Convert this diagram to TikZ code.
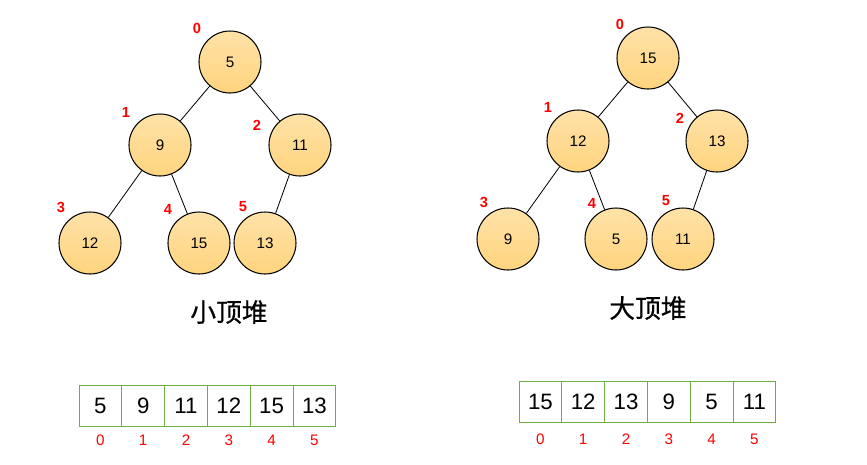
\documentclass[tikz,border=0pt]{standalone}
\usepackage{fontspec}
\setmainfont{Liberation Sans}
\newfontfamily\cjk[FakeBold=0.6]{Noto Sans CJK SC}
\usetikzlibrary{positioning}
\definecolor{nodetop}{HTML}{FFE2A8}
\definecolor{nodebot}{HTML}{FFD47E}
\definecolor{cellgreen}{HTML}{6DAE45}
\definecolor{idxred}{HTML}{FF0000}
\tikzset{
  hnode/.style={circle, draw=black, line width=0.9pt, minimum size=1.86cm, inner sep=0pt,
    top color=nodetop, bottom color=nodebot, font=\fontsize{13}{15}\selectfont},
  hedge/.style={line width=0.7pt},
  hpos/.style={text=idxred, font=\bfseries\fontsize{12.5}{14}\selectfont, inner sep=0pt},
  title/.style={font=\cjk\fontsize{22}{26}\selectfont},
  cell/.style={draw=cellgreen, line width=0.8pt, minimum width=1.284cm, minimum height=1.23cm,
    inner sep=0pt, outer sep=0pt, font=\fontsize{19}{22}\selectfont},
  cidx/.style={text=idxred, font=\fontsize{13}{15}\selectfont, inner sep=0pt}
}
\begin{document}
\begin{tikzpicture}[x=0.03cm, y=-0.03cm]
  \useasboundingbox (0,0) rectangle (867,464);
  % min heap
  \node[hnode] (m0) at (230,62) {5};
  \node[hnode] (m1) at (160,145) {9};
  \node[hnode] (m2) at (300,145) {11};
  \node[hnode] (m3) at (90,243) {12};
  \node[hnode] (m4) at (199,243) {15};
  \node[hnode] (m5) at (265,243) {13};
  \draw[hedge] (m0) -- (m1);
  \draw[hedge] (m0) -- (m2);
  \draw[hedge] (m1) -- (m3);
  \draw[hedge] (m1) -- (m4);
  \draw[hedge] (m2) -- (m5);
  \node[hpos] (mp0) at (197,28) {0};
  \node[hpos] (mp1) at (126,112) {1};
  \node[hpos] (mp2) at (257,125) {2};
  \node[hpos] (mp3) at (61,207) {3};
  \node[hpos] (mp4) at (168,209) {4};
  \node[hpos] (mp5) at (243,207) {5};
  \node[title] (mt) at (229,312) {小顶堆};
  % max heap
  \node[hnode] (x0) at (648,58) {15};
  \node[hnode] (x1) at (578,141) {12};
  \node[hnode] (x2) at (717,141) {13};
  \node[hnode] (x3) at (508,239) {9};
  \node[hnode] (x4) at (616,239) {5};
  \node[hnode] (x5) at (683,239) {11};
  \draw[hedge] (x0) -- (x1);
  \draw[hedge] (x0) -- (x2);
  \draw[hedge] (x1) -- (x3);
  \draw[hedge] (x1) -- (x4);
  \draw[hedge] (x2) -- (x5);
  \node[hpos] (xp0) at (620,24) {0};
  \node[hpos] (xp1) at (548,107) {1};
  \node[hpos] (xp2) at (680,118) {2};
  \node[hpos] (xp3) at (484,202) {3};
  \node[hpos] (xp4) at (592,203) {4};
  \node[hpos] (xp5) at (666,201) {5};
  \node[title] (xt) at (648,308) {大顶堆};
  % arrays
  \node[cell] (a0) at (100.4,406) {5};
  \node[cell, right=0pt of a0] (a1) {9};
  \node[cell, right=0pt of a1] (a2) {11};
  \node[cell, right=0pt of a2] (a3) {12};
  \node[cell, right=0pt of a3] (a4) {15};
  \node[cell, right=0pt of a4] (a5) {13};
  \foreach \i in {0,...,5}
    \node[cidx, below=0.25cm of a\i] (ai\i) {\i};
  \node[cell] (b0) at (540.4,402) {15};
  \node[cell, right=0pt of b0] (b1) {12};
  \node[cell, right=0pt of b1] (b2) {13};
  \node[cell, right=0pt of b2] (b3) {9};
  \node[cell, right=0pt of b3] (b4) {5};
  \node[cell, right=0pt of b4] (b5) {11};
  \foreach \i in {0,...,5}
    \node[cidx, below=0.33cm of b\i] (bi\i) {\i};
\end{tikzpicture}
\end{document}
